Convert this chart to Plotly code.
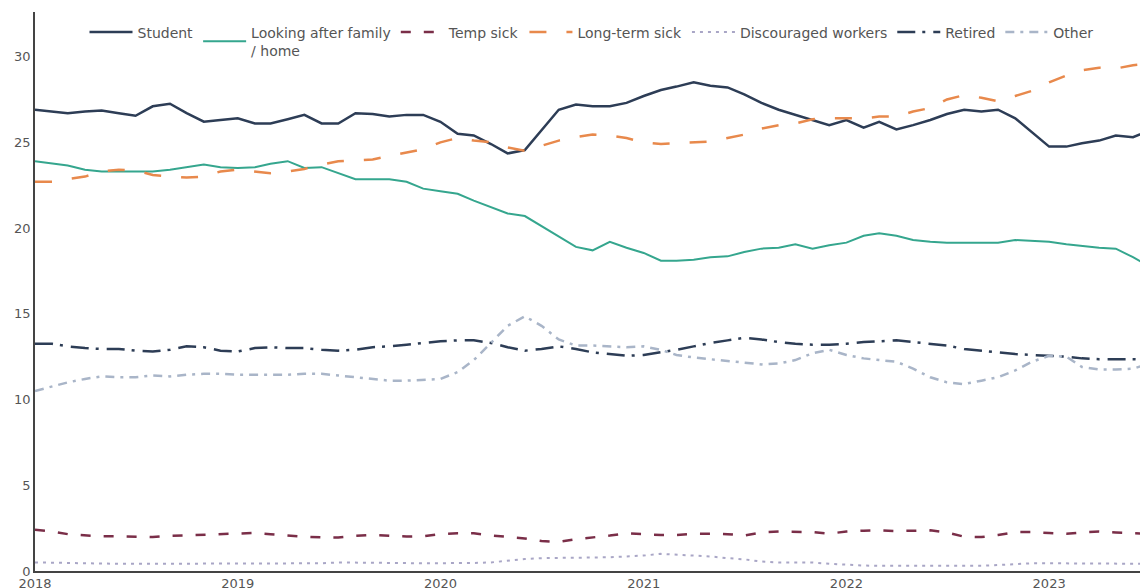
import pandas as pd
import plotly.graph_objects as go

# monthly, Jan 2018 .. Jul 2023
months = pd.date_range("2018-01-01", periods=67, freq="MS")

student = [26.9, 26.8, 26.7, 26.8, 26.85, 26.7, 26.55, 27.1, 27.25, 26.7, 26.2, 26.3,
           26.4, 26.1, 26.1, 26.35, 26.6, 26.1, 26.1, 26.7, 26.65, 26.5, 26.6, 26.6,
           26.2, 25.5, 25.4, 24.9, 24.35, 24.55, 25.7, 26.9, 27.2, 27.1, 27.1, 27.3,
           27.7, 28.05, 28.25, 28.5, 28.3, 28.2, 27.8, 27.3, 26.9, 26.6, 26.3, 26.0,
           26.3, 25.85, 26.2, 25.75, 26.0, 26.3, 26.65, 26.9, 26.8, 26.9, 26.4, 25.6,
           24.75, 24.75, 24.95, 25.1, 25.4, 25.3, 25.7]

family = [23.9, 23.75, 23.65, 23.4, 23.3, 23.3, 23.3, 23.3, 23.4, 23.55, 23.7, 23.55,
          23.5, 23.55, 23.75, 23.9, 23.5, 23.55, 23.2, 22.85, 22.85, 22.85, 22.7, 22.3,
          22.15, 22.0, 21.6, 21.2, 20.85, 20.7, 20.1, 19.5, 18.9, 18.7, 19.2, 18.85,
          18.55, 18.1, 18.1, 18.15, 18.3, 18.35, 18.6, 18.8, 18.85, 19.05, 18.8, 19.0,
          19.15, 19.55, 19.7, 19.55, 19.3, 19.2, 19.15, 19.15, 19.15, 19.15, 19.3, 19.25,
          19.2, 19.05, 18.95, 18.85, 18.8, 18.3, 17.75]

temp_sick = [2.4, 2.3, 2.15, 2.1, 2.02, 2.02, 2.02, 1.98, 2.05, 2.08, 2.12, 2.17,
             2.2, 2.22, 2.15, 2.07, 2.0, 1.96, 1.95, 2.05, 2.1, 2.05, 2.01, 2.03,
             2.15, 2.2, 2.2, 2.07, 1.98, 1.9, 1.75, 1.7, 1.85, 1.95, 2.07, 2.2,
             2.15, 2.1, 2.1, 2.17, 2.17, 2.15, 2.07, 2.25, 2.3, 2.3, 2.27, 2.18,
             2.3, 2.35, 2.37, 2.33, 2.35, 2.37, 2.25, 2.0, 1.98, 2.1, 2.27, 2.27,
             2.22, 2.17, 2.25, 2.3, 2.25, 2.2, 2.17]

long_sick = [22.7, 22.7, 22.85, 23.0, 23.3, 23.4, 23.35, 23.1, 23.0, 22.95, 23.0, 23.3,
             23.4, 23.3, 23.2, 23.3, 23.45, 23.7, 23.9, 23.95, 24.0, 24.2, 24.4, 24.6,
             25.0, 25.25, 25.1, 25.0, 24.7, 24.5, 24.8, 25.1, 25.3, 25.45, 25.4, 25.25,
             25.0, 24.9, 24.95, 25.0, 25.05, 25.25, 25.45, 25.8, 26.0, 26.1, 26.35, 26.4,
             26.4, 26.4, 26.5, 26.5, 26.8, 27.0, 27.5, 27.75, 27.6, 27.4, 27.7, 28.0,
             28.5, 28.9, 29.2, 29.35, 29.3, 29.5, 29.6]

discouraged = [0.5, 0.48, 0.45, 0.43, 0.42, 0.42, 0.42, 0.42, 0.42, 0.42, 0.43, 0.43,
               0.43, 0.43, 0.43, 0.42, 0.42, 0.45, 0.5, 0.5, 0.48, 0.46, 0.46, 0.45,
               0.45, 0.46, 0.47, 0.5, 0.6, 0.7, 0.75, 0.76, 0.76, 0.76, 0.8, 0.85,
               0.9, 1.0, 0.95, 0.9, 0.85, 0.75, 0.68, 0.55, 0.5, 0.5, 0.5, 0.42,
               0.35, 0.32, 0.3, 0.3, 0.3, 0.3, 0.3, 0.3, 0.3, 0.35, 0.42, 0.45,
               0.45, 0.45, 0.45, 0.45, 0.45, 0.43, 0.42]

retired = [13.25, 13.25, 13.1, 13.0, 12.95, 12.95, 12.85, 12.8, 12.9, 13.1, 13.05, 12.85,
           12.8, 13.0, 13.05, 13.0, 13.0, 12.9, 12.85, 12.9, 13.05, 13.1, 13.2, 13.3,
           13.4, 13.45, 13.45, 13.3, 13.05, 12.85, 12.95, 13.1, 12.95, 12.75, 12.65, 12.55,
           12.6, 12.75, 12.9, 13.1, 13.3, 13.45, 13.6, 13.5, 13.35, 13.25, 13.2, 13.2,
           13.25, 13.35, 13.4, 13.45, 13.35, 13.25, 13.15, 12.95, 12.85, 12.75, 12.65, 12.6,
           12.55, 12.5, 12.4, 12.35, 12.35, 12.35, 12.3]

other = [10.5, 10.75, 11.0, 11.2, 11.35, 11.3, 11.3, 11.4, 11.35, 11.45, 11.5, 11.5,
         11.45, 11.45, 11.45, 11.45, 11.5, 11.5, 11.4, 11.3, 11.2, 11.1, 11.1, 11.15,
         11.2, 11.6, 12.3, 13.3, 14.3, 14.85, 14.3, 13.5, 13.15, 13.15, 13.1, 13.05,
         13.1, 12.9, 12.6, 12.45, 12.35, 12.25, 12.15, 12.05, 12.1, 12.3, 12.7, 12.9,
         12.6, 12.4, 12.3, 12.2, 11.8, 11.3, 11.0, 10.9, 11.1, 11.3, 11.7, 12.2,
         12.55, 12.5, 11.9, 11.75, 11.75, 11.8, 12.1]

series = [
    ("Student", student, "#2d3d56", "solid", 2.5),
    ("Looking after family<br>/ home", family, "#35a68e", "solid", 2),
    ("Temp sick", temp_sick, "#7a2e48", "10px,13px", 2.5),
    ("Long-term sick", long_sick, "#e8894c", "17px,20px", 2.5),
    ("Discouraged workers", discouraged, "#a9a6c6", "3px,5px", 2),
    ("Retired", retired, "#2d3d56", "18px,7px,3px,8px", 2.5),
    ("Other", other, "#a9b5c8", "9px,6px,3px,6px", 2.5),
]

fig = go.Figure()
for name, vals, col, dash, w in series:
    fig.add_trace(go.Scatter(x=months, y=vals, name=name, mode="lines",
                             line=dict(color=col, dash=dash, width=w)))

# page body has an 8px margin, so size/margins compensate for it
fig.update_layout(
    width=1140, height=580,
    margin=dict(l=27, r=0, t=4, b=17),
    paper_bgcolor="white", plot_bgcolor="white",
    font=dict(family="DejaVu Sans", size=13, color="#555"),
    showlegend=True,
    legend=dict(orientation="h", x=0.5, xanchor="center", y=0.992, yanchor="top",
                bgcolor="rgba(0,0,0,0)", font=dict(size=14, color="#555"),
                itemwidth=43),
)
fig.update_xaxes(range=["2018-01-01", "2023-06-28"], showgrid=False, zeroline=False,
                 showline=True, linecolor="#444", linewidth=1.5, ticks="",
                 dtick="M12", tickformat="%Y", automargin=False)
fig.update_yaxes(range=[0, 32.6], showgrid=False, zeroline=False,
                 showline=True, linecolor="#444", linewidth=1.5, ticks="",
                 tickvals=[0, 5, 10, 15, 20, 25, 30], automargin=False)

fig.write_html("out.html")
